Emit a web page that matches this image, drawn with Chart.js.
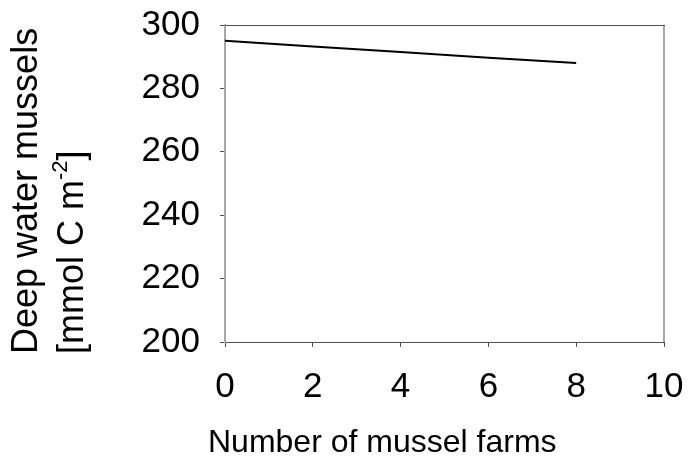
<!DOCTYPE html>
<html>
<head>
<meta charset="utf-8">
<script src="https://cdn.jsdelivr.net/npm/chart.js@4/dist/chart.umd.min.js"></script>
<style>
  html, body { margin: 0; padding: 0; background: #fff; }
  #wrap { width: 691px; height: 460px; }
</style>
</head>
<body>
<div id="wrap"><canvas id="c" width="691" height="460"></canvas></div>
<script>
// Deep water mussel stock versus number of mussel farms
const farms = [0, 2, 4, 6, 8];
const deepMussels = [295, 293.2, 291.5, 289.7, 288];
const xTicks = [0, 2, 4, 6, 8, 10];
const yTicks = [200, 220, 240, 260, 280, 300];
const xTitle = 'Number of mussel farms';
const yTitleLine1 = 'Deep water mussels';
const yTitleLine2 = ['[mmol C m', '-2', ']'];

const FONT = '"Liberation Sans", Arial, Helvetica, sans-serif';
const H_GREY = '#505050';   // horizontal frame edges
const V_GREY = '#a8a8a8';   // vertical frame edges

// top and right edges of the plot frame
const frame = {
  id: 'frame',
  afterDatasetsDraw(chart) {
    const { ctx, chartArea: a } = chart;
    const l = Math.round(a.left), r = Math.round(a.right);
    const t = Math.round(a.top);
    const b = Math.round(a.bottom);
    ctx.save();
    ctx.lineWidth = 1;
    ctx.strokeStyle = H_GREY;
    ctx.beginPath();
    ctx.moveTo(l, t + 0.5);
    ctx.lineTo(r + 1, t + 0.5);
    ctx.stroke();
    ctx.lineWidth = 2;
    ctx.strokeStyle = V_GREY;
    ctx.beginPath();
    ctx.moveTo(r, t + 1);
    ctx.lineTo(r, b);
    ctx.stroke();
    ctx.restore();
  }
};

// axis titles: two-line rotated y title with a superscript exponent, and the x title
const titles = {
  id: 'titles',
  afterDraw(chart) {
    const { ctx } = chart;
    const a = chart.chartArea;
    const bottom = a.bottom + 12;
    ctx.save();
    ctx.fillStyle = '#000';
    ctx.textBaseline = 'middle';
    ctx.textAlign = 'left';
    // y title, first line
    ctx.save();
    ctx.translate(27, bottom);
    ctx.rotate(-Math.PI / 2);
    ctx.font = '36px ' + FONT;
    ctx.fillText(yTitleLine1, 0, 0);
    ctx.restore();
    // y title, second line
    ctx.save();
    ctx.translate(73, bottom);
    ctx.rotate(-Math.PI / 2);
    ctx.font = '36px ' + FONT;
    let x = 0;
    ctx.fillText(yTitleLine2[0], x, 0);
    x += ctx.measureText(yTitleLine2[0]).width;
    ctx.font = '22px ' + FONT;
    ctx.fillText(yTitleLine2[1], x, -12);
    x += ctx.measureText(yTitleLine2[1]).width;
    ctx.font = '36px ' + FONT;
    ctx.fillText(yTitleLine2[2], x, 0);
    ctx.restore();
    // x title
    ctx.textBaseline = 'alphabetic';
    ctx.font = '32px ' + FONT;
    ctx.fillText(xTitle, a.left - 17, a.bottom + 110);
    ctx.restore();
  }
};

new Chart(document.getElementById('c'), {
  type: 'line',
  data: {
    datasets: [{
      data: farms.map((f, i) => ({ x: f, y: deepMussels[i] })),
      borderColor: '#000',
      borderWidth: 2,
      pointRadius: 0,
      tension: 0,
      fill: false
    }]
  },
  options: {
    responsive: false,
    animation: false,
    devicePixelRatio: 1,
    layout: { padding: { left: 0, right: 27, top: 25, bottom: 0 } },
    plugins: { legend: { display: false }, tooltip: { enabled: false } },
    scales: {
      x: {
        type: 'linear',
        min: 0, max: 10,
        afterBuildTicks(s) { s.ticks = xTicks.map(v => ({ value: v })); },
        afterFit(s) { s.height = 118; s.paddingLeft = 0; s.paddingRight = 0; },
        grid: { drawOnChartArea: false, tickLength: 5, color: H_GREY },
        border: { color: H_GREY, width: 1 },
        ticks: { color: '#000', padding: 19, maxRotation: 0, font: { family: FONT, size: 35 } }
      },
      y: {
        min: 200, max: 300,
        afterBuildTicks(s) { s.ticks = yTicks.map(v => ({ value: v })); },
        afterFit(s) { s.width = 225; s.paddingTop = 0; s.paddingBottom = 0; },
        grid: { drawOnChartArea: false, tickLength: 5, color: H_GREY },
        border: { color: V_GREY, width: 2 },
        ticks: { color: '#000', padding: 20, font: { family: FONT, size: 35 } }
      }
    }
  },
  plugins: [frame, titles]
});
</script>
</body>
</html>
